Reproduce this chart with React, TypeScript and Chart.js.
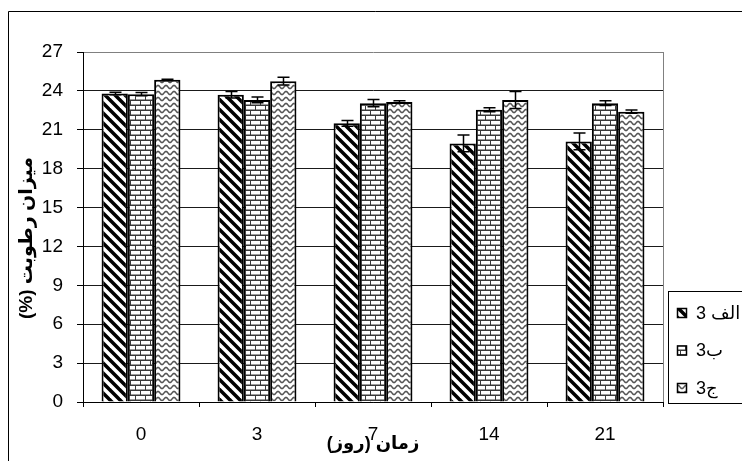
import React, { useEffect, useRef } from 'react';
import { Chart, registerables } from 'chart.js';

Chart.register(...registerables);

// ---- data ----
const categories = ['0', '3', '7', '14', '21'];
const seriesLabels = ['الف 3', 'ب3', 'ج3'];
const seriesA = [23.8, 23.7, 21.5, 19.95, 20.1];
const seriesB = [23.75, 23.3, 23.05, 22.55, 23.05];
const seriesC = [24.85, 24.75, 23.15, 23.3, 22.4];
const errorsA = [0.1, 0.25, 0.22, 0.65, 0.65];
const errorsB = [0.12, 0.22, 0.28, 0.15, 0.18];
const errorsC = [0.05, 0.3, 0.08, 0.65, 0.12];
const yMin = 0;
const yMax = 27;
const yStep = 3;
const yAxisTitle = 'میزان رطوبت (%)';
const xAxisTitle = 'زمان (روز)';

const FONT = '"Liberation Sans", Arial, "DejaVu Sans", sans-serif';

function makePattern(kind: string): CanvasPattern | string {
  const c = document.createElement('canvas');
  const ctx = c.getContext('2d');
  if (!ctx) return '#fff';
  if (kind === 'diag') {
    c.width = 10; c.height = 10;
    ctx.fillStyle = '#fff';
    ctx.fillRect(0, 0, 10, 10);
    ctx.strokeStyle = '#000';
    ctx.lineWidth = 3.5;
    for (let k = -1; k <= 1; k++) {
      ctx.beginPath();
      ctx.moveTo(-2, -2 + 10 * k);
      ctx.lineTo(12, 12 + 10 * k);
      ctx.stroke();
    }
  } else if (kind === 'brick') {
    c.width = 10; c.height = 10;
    ctx.fillStyle = '#3a3a3a';
    ctx.fillRect(0, 0, 10, 10);
    ctx.fillStyle = '#fff';
    ctx.fillRect(1, 1, 9, 3.5);
    ctx.fillRect(6, 6, 9, 3.5);
    ctx.fillRect(-4, 6, 9, 3.5);
  } else {
    c.width = 8; c.height = 6;
    ctx.fillStyle = '#fff';
    ctx.fillRect(0, 0, 8, 6);
    ctx.strokeStyle = '#555';
    ctx.lineWidth = 1.5;
    ctx.beginPath();
    for (let x = -1; x <= 9; x += 0.5) {
      const y = 3 + 1.6 * Math.sin((2 * Math.PI * x) / 8);
      if (x === -1) ctx.moveTo(x, y); else ctx.lineTo(x, y);
    }
    ctx.stroke();
  }
  const p = ctx.createPattern(c, 'repeat');
  return p || '#fff';
}

const framePlugin = {
  id: 'frame',
  beforeDraw(chart: any) {
    const ctx = chart.ctx;
    ctx.save();
    ctx.fillStyle = '#fff';
    ctx.fillRect(0, 0, chart.width, chart.height);
    ctx.strokeStyle = '#000';
    ctx.lineWidth = 1;
    ctx.beginPath();
    ctx.moveTo(8.5, chart.height + 2);
    ctx.lineTo(8.5, 11.5);
    ctx.lineTo(chart.width + 2, 11.5);
    ctx.stroke();
    ctx.restore();
  },
  afterDatasetsDraw(chart: any) {
    const ctx = chart.ctx;
    const a = chart.chartArea;
    ctx.save();
    ctx.strokeStyle = '#808080';
    ctx.lineWidth = 1;
    ctx.beginPath();
    ctx.moveTo(Math.round(a.right) + 0.5, a.top);
    ctx.lineTo(Math.round(a.right) + 0.5, a.bottom);
    ctx.stroke();
    ctx.restore();
  },
};

const yTitlePlugin = {
  id: 'yTitle',
  afterDraw(chart: any) {
    const ctx = chart.ctx;
    const a = chart.chartArea;
    ctx.save();
    ctx.translate(27, (a.top + a.bottom) / 2 + 11);
    ctx.rotate(-Math.PI / 2);
    ctx.direction = 'rtl';
    ctx.fillStyle = '#000';
    ctx.font = 'bold 19px ' + FONT;
    ctx.textAlign = 'center';
    ctx.textBaseline = 'middle';
    ctx.fillText(yAxisTitle, 0, 0);
    ctx.restore();
  },
};

const errorBarPlugin = {
  id: 'errorBars',
  afterDatasetsDraw(chart: any) {
    const ctx = chart.ctx;
    const ys = chart.scales.y;
    chart.data.datasets.forEach((ds: any, i: number) => {
      const meta = chart.getDatasetMeta(i);
      meta.data.forEach((el: any, j: number) => {
        const v = ds.data[j];
        const e = ds.errors[j];
        const yt = ys.getPixelForValue(v + e);
        const yb = ys.getPixelForValue(v - e);
        const x = Math.round(el.x) + 0.5;
        ctx.save();
        ctx.strokeStyle = '#000';
        ctx.lineWidth = 1.5;
        ctx.beginPath();
        ctx.moveTo(x, yt);
        ctx.lineTo(x, yb);
        ctx.moveTo(x - 6, yt);
        ctx.lineTo(x + 6, yt);
        ctx.moveTo(x - 6, yb);
        ctx.lineTo(x + 6, yb);
        ctx.stroke();
        ctx.restore();
      });
    });
  },
};

const legendPlugin = {
  id: 'boxLegend',
  afterDraw(chart: any) {
    const ctx = chart.ctx;
    ctx.save();
    ctx.strokeStyle = '#000';
    ctx.lineWidth = 1;
    ctx.strokeRect(668.5, 291.5, 90, 112);
    chart.data.datasets.forEach((ds: any, i: number) => {
      const cy = 313 + i * 37.5;
      ctx.fillStyle = '#fff';
      ctx.fillRect(677, cy - 5, 10, 10);
      ctx.fillStyle = ds.backgroundColor;
      ctx.fillRect(677, cy - 5, 10, 10);
      ctx.strokeStyle = '#000';
      ctx.lineWidth = 1.5;
      ctx.strokeRect(677.5, cy - 4.5, 9, 9);
      ctx.fillStyle = '#000';
      ctx.font = '18px ' + FONT;
      ctx.textAlign = 'left';
      ctx.textBaseline = 'middle';
      ctx.fillText(ds.label, 696, cy + 1);
    });
    ctx.restore();
  },
};

export default function App() {
  const ref = useRef<HTMLCanvasElement | null>(null);

  useEffect(() => {
    const canvas = ref.current;
    if (!canvas) return;
    document.body.style.margin = '0';
    document.body.style.overflow = 'hidden';
    const patterns = [makePattern('diag'), makePattern('brick'), makePattern('wave')];
    const values = [seriesA, seriesB, seriesC];
    const errors = [errorsA, errorsB, errorsC];

    const chart = new Chart(canvas, {
      type: 'bar',
      data: {
        labels: categories,
        datasets: seriesLabels.map((label, i) => ({
          label,
          data: values[i],
          errors: errors[i],
          backgroundColor: patterns[i] as any,
          borderColor: '#000',
          borderWidth: 2,
          categoryPercentage: 0.68,
          barPercentage: 1.0,
        })) as any,
      },
      options: {
        responsive: false,
        animation: false,
        devicePixelRatio: 1,
        layout: { padding: { left: 0, right: 79, top: 52, bottom: 0 } },
        font: { family: FONT, size: 19 },
        plugins: {
          legend: { display: false },
          tooltip: { enabled: false },
          title: { display: false },
        },
        scales: {
          x: {
            grid: {
              display: true,
              drawOnChartArea: false,
              drawTicks: true,
              tickLength: 5,
              color: '#000',
              tickColor: '#000',
              offset: true,
            },
            border: { display: true, color: '#000', width: 1 },
            ticks: {
              color: '#000',
              font: { family: FONT, size: 19 },
              padding: 16,
              maxRotation: 0,
            },
            title: {
              display: true,
              text: xAxisTitle,
              color: '#000',
              font: { family: FONT, size: 18, weight: 'bold' },
              padding: { top: 0, bottom: 6 },
            },
            afterFit: (s: any) => { s.height = 59; },
          },
          y: {
            min: yMin,
            max: yMax,
            grid: {
              display: true,
              drawOnChartArea: true,
              drawTicks: true,
              tickLength: 6,
              color: (c: any) => (c.tick && c.tick.value === yMax ? '#808080' : '#1a1a1a'),
              tickColor: '#000',
            },
            border: { display: true, color: '#000', width: 1 },
            ticks: {
              stepSize: yStep,
              color: '#000',
              font: { family: FONT, size: 19 },
              padding: 14,
            },
            title: { display: false },
            afterFit: (s: any) => { s.width = 83; },
          },
        },
      } as any,
      plugins: [framePlugin, errorBarPlugin, legendPlugin, yTitlePlugin],
    });
    return () => chart.destroy();
  }, []);

  return (
    <div style={{ position: 'fixed', left: 0, top: 0, width: 742, height: 461 }}>
      <canvas ref={ref} width={742} height={461} style={{ display: 'block', width: 742, height: 461, direction: 'rtl' }} />
    </div>
  );
}
